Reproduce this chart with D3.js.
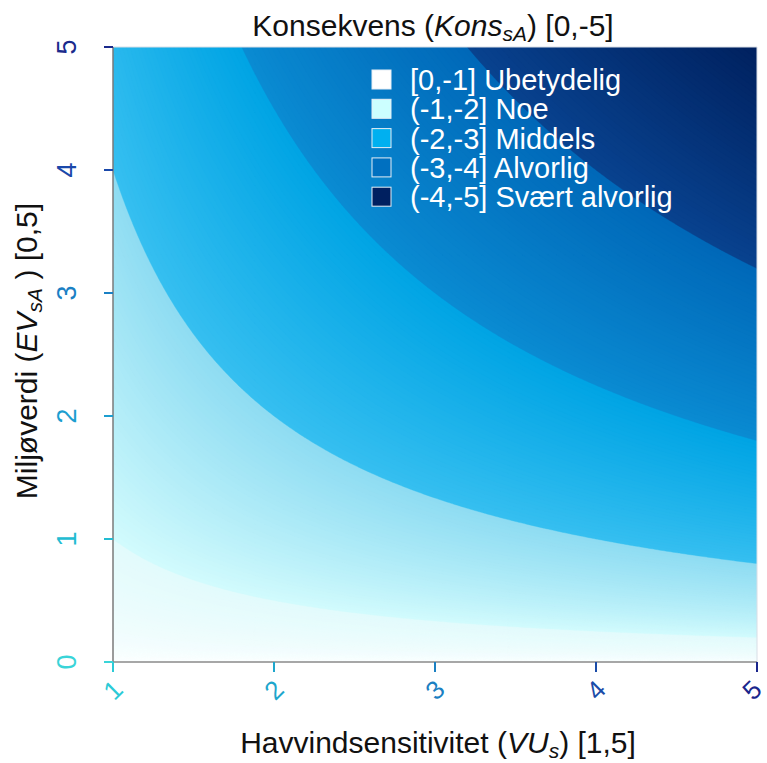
<!DOCTYPE html>
<html>
<head>
<meta charset="utf-8">
<script src="https://cdn.jsdelivr.net/npm/d3@7"></script>
<style>
  html, body { margin: 0; padding: 0; background: #fff; }
  svg { display: block; font-family: "Liberation Sans", Arial, sans-serif; }
</style>
</head>
<body>
<svg id="chart" width="767" height="763"></svg>
<script>
// Axis domains and ticks
const vuDomain = [1, 5];
const evDomain = [0, 5];
const xTicks = [1, 2, 3, 4, 5];
const yTicks = [0, 1, 2, 3, 4, 5];
const xTickColors = ["#2ccad6", "#1ea6cc", "#1b80c2", "#1a4ca8", "#1a268c"];
const yTickColors = ["#3ad4d8", "#22bcd2", "#1c9ed0", "#1a80c4", "#1a48aa", "#1a2a8c"];

// Consequence classes (absolute value of the score)
const classBreaks = [0, 1, 2, 3, 4, 5];
const classLabels = ["[0,-1] Ubetydelig", "(-1,-2] Noe", "(-2,-3] Middels", "(-3,-4] Alvorlig", "(-4,-5] Svært alvorlig"];
const classColors = ["#ffffff", "#ccffff", "#00b0f0", "#0070c0", "#002060"];
// shading inside each class: colour at the lower and upper break
const shadeLow  = ["#ffffff", "#d2fbfd", "#36bff0", "#0a8bd2", "#08428f"];
const shadeHigh = ["#e2fbfc", "#8edcf2", "#00a4e4", "#0068b8", "#00215f"];

// Consequence score: geometric mean of sensitivity (VU) and environmental value (EV)
const consequence = (vu, ev) => Math.sqrt(vu * ev);

const svg = d3.select("#chart");
const x = d3.scaleLinear(vuDomain, [113, 757]);
const y = d3.scaleLinear(evDomain, [662, 47]);

function shade(v) {
  let k = Math.min(classBreaks.length - 2, Math.floor(v));
  const t = (v - classBreaks[k]) / (classBreaks[k + 1] - classBreaks[k]);
  return d3.interpolateRgb(shadeLow[k], shadeHigh[k])(Math.max(0, Math.min(1, t)));
}

// sample grid
const nx = 300, ny = 300;
const values = new Array(nx * ny);
const gx = i => vuDomain[0] + (vuDomain[1] - vuDomain[0]) * i / (nx - 1);
const gy = j => evDomain[0] + (evDomain[1] - evDomain[0]) * j / (ny - 1);
for (let j = 0; j < ny; j++) {
  for (let i = 0; i < nx; i++) values[j * nx + i] = consequence(gx(i), gy(j));
}

const stepsPerClass = 40;
const thresholds = d3.range(0, 5 * stepsPerClass).map(i => i / stepsPerClass);
const contours = d3.contours().size([nx, ny]).thresholds(thresholds)(values);

const proj = d3.geoTransform({
  point(px, py) {
    this.stream.point(x(gx(px - 0.5)), y(gy(py - 0.5)));
  }
});
const path = d3.geoPath(proj);

svg.append("clipPath").attr("id", "plotClip")
  .append("rect").attr("x", 113).attr("y", 47).attr("width", 644).attr("height", 615);

svg.append("g").attr("clip-path", "url(#plotClip)")
  .selectAll("path").data(contours).join("path")
  .attr("d", path)
  .attr("fill", d => shade(d.value + 0.5 / stepsPerClass))
  .attr("stroke", d => shade(d.value + 0.5 / stepsPerClass))
  .attr("stroke-width", 0.4);

// light frame on top and right
svg.append("path")
  .attr("d", `M${x(1)},${y(5)}H${x(5)}V${y(0)}`)
  .attr("fill", "none").attr("stroke", "#d8dee6").attr("stroke-width", 1);

// axes
svg.append("line").attr("x1", x(1)).attr("x2", x(1)).attr("y1", y(5)).attr("y2", y(0))
  .attr("stroke", "#7a7a7a").attr("stroke-width", 1.5);
svg.append("line").attr("x1", x(1)).attr("x2", x(5)).attr("y1", y(0)).attr("y2", y(0))
  .attr("stroke", "#8a8a8a").attr("stroke-width", 1.5);

const xg = svg.append("g");
xTicks.forEach((t, i) => {
  xg.append("line").attr("x1", x(t)).attr("x2", x(t)).attr("y1", y(0)).attr("y2", y(0) + 10)
    .attr("stroke", xTickColors[i]).attr("stroke-width", 2);
  xg.append("text").attr("transform", `translate(${x(t) - (i === xTicks.length - 1 ? 5 : 0)},${y(0) + 28}) rotate(-45)`)
    .attr("text-anchor", "middle").attr("dominant-baseline", "central")
    .attr("font-size", 26).attr("fill", xTickColors[i]).text(t);
});
const yg = svg.append("g");
yTicks.forEach((t, i) => {
  yg.append("line").attr("x1", x(1) - 9).attr("x2", x(1)).attr("y1", y(t)).attr("y2", y(t))
    .attr("stroke", yTickColors[i]).attr("stroke-width", 2);
  yg.append("text").attr("transform", `translate(${x(1) - 46},${y(t)}) rotate(-90)`)
    .attr("text-anchor", "middle").attr("dominant-baseline", "central")
    .attr("font-size", 27).attr("fill", yTickColors[i]).text(t);
});

// titles
function richLabel(g, parts) {
  const t = g.append("text").attr("text-anchor", "middle").attr("fill", "#111").attr("font-size", 30);
  parts.forEach(p => {
    const s = t.append("tspan").text(p.text);
    if (p.italic) s.attr("font-style", "italic");
    if (p.sub) s.attr("font-size", 21).attr("baseline-shift", "-22%");
  });
  return t;
}
richLabel(svg.append("g").attr("transform", "translate(433,36)"), [
  { text: "Konsekvens (" }, { text: "Kons", italic: true }, { text: "sA", italic: true, sub: true }, { text: ") [0,-5]" }
]);
richLabel(svg.append("g").attr("transform", "translate(438,753)"), [
  { text: "Havvindsensitivitet (" }, { text: "VU", italic: true }, { text: "s", italic: true, sub: true }, { text: ") [1,5]" }
]);
richLabel(svg.append("g").attr("transform", "translate(37,351) rotate(-90)"), [
  { text: "Miljøverdi (" }, { text: "EV", italic: true }, { text: "sA", italic: true, sub: true }, { text: " ) [0,5]" }
]);

// legend
const lg = svg.append("g").attr("transform", "translate(372,70)");
classLabels.forEach((lab, i) => {
  const row = lg.append("g").attr("transform", `translate(0,${i * 29.3})`);
  row.append("rect").attr("width", 19).attr("height", 19)
    .attr("fill", classColors[i]).attr("stroke", "#e6eef6").attr("stroke-width", 1);
  row.append("text").attr("x", 38).attr("y", 10).attr("dominant-baseline", "central")
    .attr("font-size", 29).attr("fill", "#fff").text(lab);
});
</script>
</body>
</html>
